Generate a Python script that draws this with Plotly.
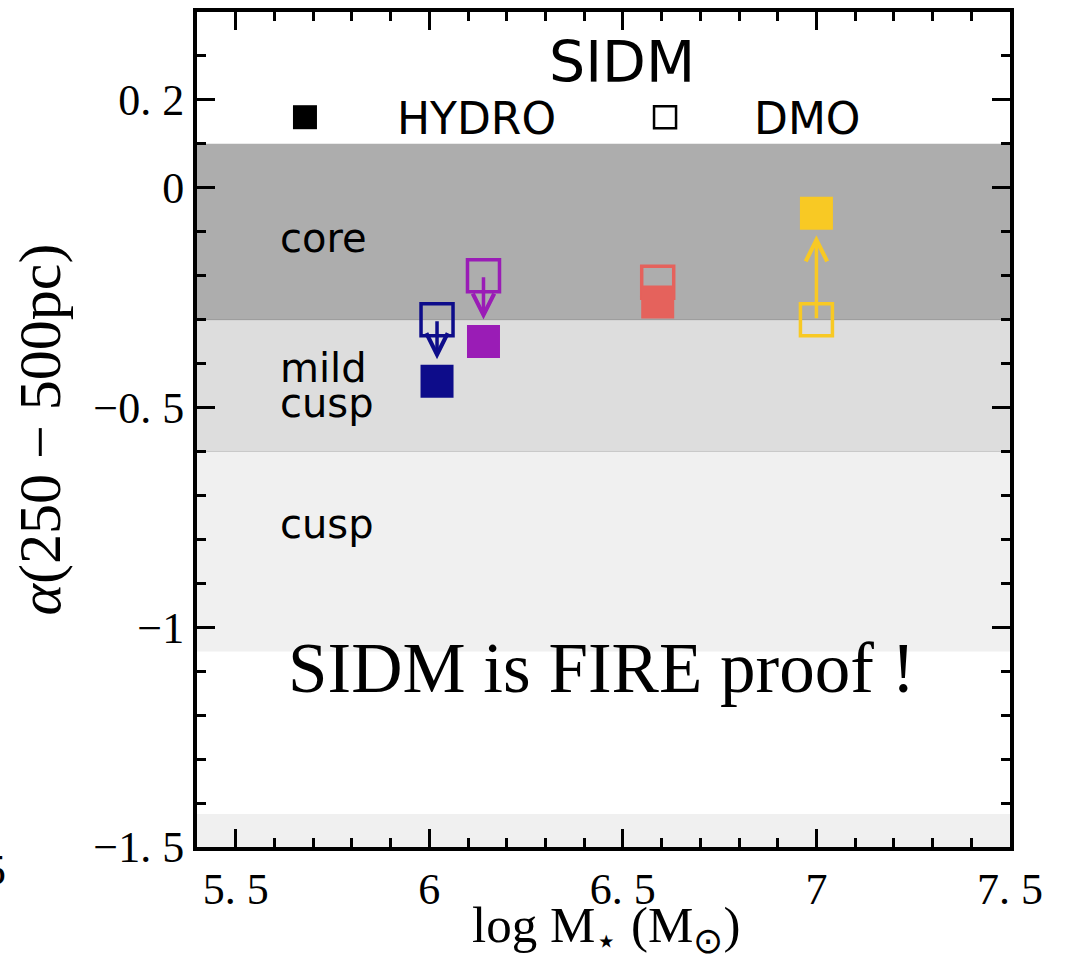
import numpy as np
import plotly.graph_objects as go

# ---- data ----
galaxy_colors = ["#0d0c8a", "#9a1cb6", "#e5625c", "#f8c924"]
log_mstar = [6.02, 6.14, 6.59, 7.0]
alpha_hydro = [-0.44, -0.35, -0.26, -0.058]
alpha_dmo = [-0.30, -0.20, -0.215, -0.30]

band_top = [0.10, -0.30, -0.60, -1.425]
band_bottom = [-0.30, -0.60, -1.055, -1.50]
band_fill = ["#adadad", "#dddddd", "#f0f0f0", "#f0f0f0"]

region_labels = ["core", "mild", "cusp", "cusp"]
region_label_y = [-0.115, -0.41, -0.49, -0.765]

y_tickvals = [0.2, 0, -0.5, -1, -1.5]
y_ticktext = ["0. 2", "0", "−0. 5", "−1", "−1. 5"]
x_tickvals = [5.5, 6, 6.5, 7, 7.5]
x_ticktext = ["5. 5", "6", "6. 5", "7", "7. 5"]

fig = go.Figure()

# background bands
for top, bot, col in zip(band_top, band_bottom, band_fill):
    fig.add_shape(type="rect", xref="paper", yref="y", x0=0, x1=1, y0=bot, y1=top,
                  fillcolor=col, line=dict(width=0), layer="below")
fig.add_shape(type="line", xref="paper", yref="y", x0=0, x1=1, y0=-0.30, y1=-0.30,
              line=dict(color="#999999", width=1), layer="below")
fig.add_shape(type="line", xref="paper", yref="y", x0=0, x1=1, y0=-0.60, y1=-0.60,
              line=dict(color="#c8c8c8", width=1), layer="below")

# DMO (open) markers
fig.add_trace(go.Scatter(
    x=log_mstar, y=alpha_dmo, mode="markers", showlegend=False,
    marker=dict(symbol="square-open", size=32, color=galaxy_colors,
                line=dict(width=3.5, color=galaxy_colors))))
# HYDRO (filled) markers
fig.add_trace(go.Scatter(
    x=log_mstar, y=alpha_hydro, mode="markers", showlegend=False,
    marker=dict(symbol="square", size=33, color=galaxy_colors, line=dict(width=0))))

# arrows DMO -> HYDRO
for xv, yd, yh, col in zip(log_mstar, alpha_dmo, alpha_hydro, galaxy_colors):
    so = 22 if abs(yh - yd) > 0.1 else 12
    fig.add_annotation(x=xv, y=yh, ax=xv, ay=yd, xref="x", yref="y", axref="x", ayref="y",
                       showarrow=True, arrowhead=5, arrowsize=1.2, arrowwidth=3.5,
                       arrowcolor=col, standoff=so, startstandoff=0, text="")

# region labels
for lab, yv in zip(region_labels, region_label_y):
    fig.add_annotation(x=5.61, y=yv, xref="x", yref="y", text=lab, showarrow=False,
                       xanchor="left", yanchor="middle",
                       font=dict(family="DejaVu Sans", size=40, color="black"))

# big statement
fig.add_annotation(x=6.445, y=-1.093, xref="x", yref="y", text="SIDM is FIRE proof !",
                   showarrow=False, xanchor="center", yanchor="middle",
                   font=dict(family="Liberation Serif", size=71, color="black"))

# title & legend
fig.add_annotation(x=0.5228, y=0.94, xref="paper", yref="paper", text="SIDM",
                   showarrow=False, xanchor="center", yanchor="middle",
                   font=dict(family="DejaVu Sans", size=57, color="black"))
fig.add_shape(type="rect", xref="paper", yref="paper", xsizemode="pixel", ysizemode="pixel",
              xanchor=0.1328, yanchor=0.874, x0=-12, x1=12, y0=-12, y1=12,
              fillcolor="black", line=dict(width=0))
fig.add_shape(type="rect", xref="paper", yref="paper", xsizemode="pixel", ysizemode="pixel",
              xanchor=0.5757, yanchor=0.874, x0=-11, x1=11, y0=-11, y1=11,
              fillcolor="rgba(0,0,0,0)", line=dict(width=2.5, color="black"))
fig.add_annotation(x=0.2435, y=0.873, xref="paper", yref="paper", text="HYDRO",
                   showarrow=False, xanchor="left", yanchor="middle",
                   font=dict(family="DejaVu Sans", size=44, color="black"))
fig.add_annotation(x=0.6827, y=0.873, xref="paper", yref="paper", text="DMO",
                   showarrow=False, xanchor="left", yanchor="middle",
                   font=dict(family="DejaVu Sans", size=44, color="black"))

# x-axis title (placed as annotation below the tick labels)
fig.add_annotation(x=0.503, y=-0.098, xref="paper", yref="paper",
                   text="log M<sub>⋆</sub> (M<sub>⊙</sub>)", showarrow=False,
                   xanchor="center", yanchor="middle",
                   font=dict(family="Liberation Serif", size=51, color="black"))

# cropped neighbour glyph at left edge
fig.add_annotation(x=-0.248, y=-0.028, xref="paper", yref="paper", text="5",
                   showarrow=False, xanchor="center", yanchor="middle",
                   font=dict(family="Liberation Serif", size=44, color="black"))

axis_common = dict(showgrid=False, zeroline=False, showline=True, linecolor="black",
                   linewidth=4, mirror="allticks", ticks="inside", ticklen=18,
                   tickwidth=3, tickcolor="black", automargin=False,
                   tickfont=dict(family="Liberation Serif", size=44, color="black"))

fig.update_xaxes(range=[5.4, 7.5], tickmode="array", tickvals=x_tickvals, ticktext=x_ticktext,
                 minor=dict(tickmode="array", tickvals=list(np.round(np.arange(5.4, 7.51, 0.1), 2)),
                            ticks="inside", ticklen=9, tickwidth=3, tickcolor="black"),
                 **axis_common)
fig.update_yaxes(range=[-1.5, 0.4], tickmode="array", tickvals=y_tickvals, ticktext=y_ticktext,
                 minor=dict(tickmode="array", tickvals=list(np.round(np.arange(-1.5, 0.41, 0.1), 2)),
                            ticks="inside", ticklen=9, tickwidth=3, tickcolor="black"),
                 title=dict(text="<i>α</i>(250 − 500pc)", standoff=14,
                            font=dict(family="Liberation Serif", size=60, color="black")),
                 **axis_common)

fig.update_layout(width=1065, height=966, margin=dict(l=197, r=55, t=12, b=119),
                  plot_bgcolor="white", paper_bgcolor="white", showlegend=False)

fig.write_html("out.html")
